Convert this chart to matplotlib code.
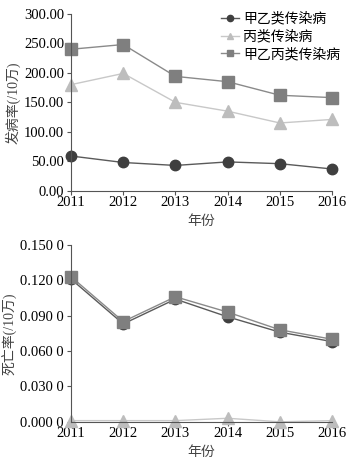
import matplotlib
matplotlib.use("Agg")
import matplotlib.pyplot as plt

plt.rcParams['font.family'] = ['Liberation Serif', 'Noto Sans CJK SC']

years = [2011, 2012, 2013, 2014, 2015, 2016]
series_names = ["甲乙类传染病", "丙类传染病", "甲乙丙类传染病"]

# incidence per 100k
inc_ab = [59, 48, 43, 49, 46, 37]
inc_c = [180, 199, 150, 135, 115, 121]
inc_total = [240, 248, 194, 185, 162, 158]

# mortality per 100k
mort_ab = [0.121, 0.083, 0.104, 0.089, 0.076, 0.068]
mort_c = [0.001, 0.001, 0.001, 0.003, 0.0, 0.001]
mort_total = [0.123, 0.085, 0.106, 0.093, 0.078, 0.070]

styles = [
    dict(color="#3f3f3f", marker="o", markersize=7.5),
    dict(color="#bdbdbd", marker="^", markersize=8),
    dict(color="#7f7f7f", marker="s", markersize=8),
]
line_color = ["#5a5a5a", "#c8c8c8", "#8a8a8a"]

fig = plt.figure(figsize=(3.57, 4.62), dpi=100)
ax1 = fig.add_axes([0.199, 0.587, 0.731, 0.383])
ax2 = fig.add_axes([0.199, 0.087, 0.731, 0.383])


def style_axis(ax):
    for side in ["top", "right"]:
        ax.spines[side].set_visible(False)
    for side in ["left", "bottom"]:
        ax.spines[side].set_color("#555555")
        ax.spines[side].set_linewidth(0.8)
    ax.tick_params(axis="y", direction="out", length=3, width=0.8, color="#555555",
                   labelsize=10.5, pad=2)
    ax.tick_params(axis="x", direction="out", length=3, width=0.8, color="#555555",
                   labelsize=10.5, pad=1)
    ax.set_xlim(2011, 2016)
    ax.set_xticks(years)
    ax.set_xlabel("年份", fontsize=10, color="#444444", labelpad=4)


for vals, st, lc, name in zip([inc_ab, inc_c, inc_total], styles, line_color, series_names):
    ax1.plot(years, vals, color=lc, lw=1.0, marker=st["marker"], markersize=st["markersize"],
             markerfacecolor=st["color"], markeredgecolor=st["color"], label=name, clip_on=False)
ax1.set_ylim(0, 300)
ax1.set_yticks([0, 50, 100, 150, 200, 250, 300])
ax1.set_yticklabels([f"{v:.2f}" for v in [0, 50, 100, 150, 200, 250, 300]])
ax1.set_ylabel("发病率(/10万)", fontsize=10, color="#444444", labelpad=2)
style_axis(ax1)
leg = ax1.legend(loc="upper right", bbox_to_anchor=(1.08, 1.08), frameon=False, fontsize=10,
                 handlelength=1.3, markerscale=0.6, labelspacing=0.3, handletextpad=0.3)

for vals, st, lc in zip([mort_ab, mort_c, mort_total], styles, line_color):
    ax2.plot(years, vals, color=lc, lw=1.0, marker=st["marker"], markersize=st["markersize"],
             markerfacecolor=st["color"], markeredgecolor=st["color"], clip_on=False)
ax2.set_ylim(0, 0.15)
mticks = [0, 0.03, 0.06, 0.09, 0.12, 0.15]
ax2.set_yticks(mticks)
ax2.set_yticklabels([f"{v:.3f} 0" for v in mticks])
ax2.set_ylabel("死亡率(/10万)", fontsize=10, color="#444444", labelpad=2)
style_axis(ax2)

fig.savefig("out.png", dpi=100)
